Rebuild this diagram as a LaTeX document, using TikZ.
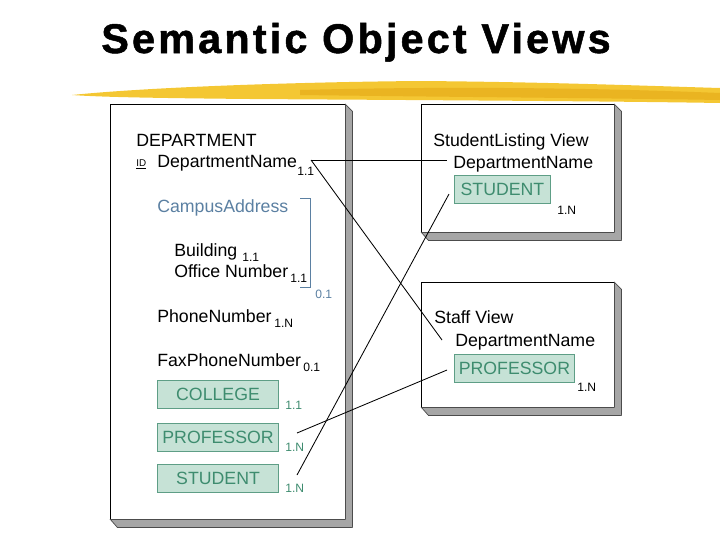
\documentclass[tikz,border=0pt]{standalone}
\usepackage{fontspec}
\setmainfont{Liberation Sans}
\newfontfamily\titlefont[LetterSpace=7.5,FakeBold=1.2]{Liberation Sans}
\usetikzlibrary{positioning,calc}

\definecolor{brushyellow}{HTML}{F4C733}
\definecolor{brushorange}{HTML}{E3A514}
\definecolor{reftext}{HTML}{3E8C6F}
\definecolor{reffill}{HTML}{C6E2D6}
\definecolor{refline}{HTML}{5E9E86}
\definecolor{groupblue}{HTML}{5B80A2}
\definecolor{shadowgray}{HTML}{A6A6A6}

\tikzset{
  objbox/.style={draw, fill=white, line width=0.7pt, inner sep=0pt},
  boxshadow/.style={fill=shadowgray, draw=black!70, line width=0.5pt},
  attr/.style={anchor=base west, inner sep=0pt, font=\fontsize{12.6}{15}\selectfont},
  card/.style={anchor=base west, inner sep=0pt, font=\fontsize{8.6}{9}\selectfont},
  objref/.style={draw=refline, fill=reffill, text=reftext, line width=0.6pt,
    anchor=north west, inner sep=0pt, minimum height=0.71cm,
    font=\fontsize{12.6}{15}\selectfont},
  link/.style={line width=0.6pt},
}

\begin{document}
\begin{tikzpicture}[x=0.025cm, y=-0.025cm]
\useasboundingbox (0,0) rectangle (720,540);

% title and brush stroke
\node[anchor=base, inner sep=0pt, font=\titlefont\bfseries\fontsize{29.5}{32}\selectfont] (title) at (356,53) {Semantic Object Views};
\fill[brushyellow] (72,95) .. controls (150,87) and (300,82) .. (420,81)
  .. controls (550,82) and (650,86) .. (720,88) -- (720,103)
  .. controls (600,101) and (400,100) .. (250,99) .. controls (150,98) and (100,97) .. cycle;
\fill[brushorange, opacity=0.55] (300,90) .. controls (450,86) and (600,88) .. (720,93) -- (720,100)
  .. controls (600,98) and (450,97) .. (300,95) -- cycle;

% object boxes
\node[objbox, minimum width=5.85cm, minimum height=10.35cm] (dept) at (228,312) {};
\node[objbox, minimum width=4.8cm, minimum height=3.175cm] (slview) at (518,168.5) {};
\node[objbox, minimum width=4.8cm, minimum height=3.1cm] (stview) at (518,345) {};
\foreach \b in {dept, slview, stview} {
  \filldraw[boxshadow] (\b.north east) -- ++(7,7) -- ($(\b.south east)+(7,8)$)
    -- ($(\b.south west)+(7,8)$) -- (\b.south west) -- (\b.south east) -- cycle;
  \draw[black!35, line width=0.4pt] (\b.south east) -- ++(7,8);
}

% DEPARTMENT object
\node[attr] (deptName) at (136,146) {DEPARTMENT};
\node[card, font=\fontsize{7}{8}\selectfont] (idMark) at (136,166) {\underline{ID}};
\node[attr] (dname) at (157,167) {DepartmentName};
\node[card] (dnameCard) at (297,175) {1.1};
\node[attr, text=groupblue] (campus) at (157,212) {CampusAddress};
\draw[groupblue, line width=0.6pt] (300,198) -- (310,198) -- (310,287) -- (300,287);
\node[card, text=groupblue] (campusCard) at (315,298) {0.1};
\node[attr] (building) at (174,256) {Building};
\node[card] (buildingCard) at (242,261) {1.1};
\node[attr] (office) at (174,277) {Office Number};
\node[card] (officeCard) at (290,282) {1.1};
\node[attr] (phone) at (157,322) {PhoneNumber};
\node[card] (phoneCard) at (274,327) {1.N};
\node[attr] (fax) at (157,366) {FaxPhoneNumber};
\node[card] (faxCard) at (303,371) {0.1};

\node[objref, minimum width=3.03cm] (college) at (157,380) {COLLEGE};
\node[card, text=reftext] (collegeCard) at (285,409) {1.1};
\node[objref, minimum width=3.03cm] (prof) at (157,423) {PROFESSOR};
\node[card, text=reftext] (profCard) at (285,451) {1.N};
\node[objref, minimum width=3.03cm] (stud) at (157,464) {STUDENT};
\node[card, text=reftext] (studCard) at (285,492) {1.N};

% StudentListing View
\node[attr] (slTitle) at (433,146) {StudentListing View};
\node[attr] (slDept) at (453,168) {DepartmentName};
\node[objref, minimum width=2.4cm] (slStud) at (454,175) {STUDENT};
\node[card] (slCard) at (557,214) {1.N};

% Staff View
\node[attr] (stTitle) at (434,323) {Staff View};
\node[attr] (stDept) at (455,346) {DepartmentName};
\node[objref, minimum width=3.0cm] (stProf) at (454,354) {PROFESSOR};
\node[card] (stCard) at (577,391) {1.N};

% connectors
\coordinate (dnameOut) at (311,160);
\coordinate (slDeptIn) at (447,160);
\coordinate (stDeptIn) at (442,340);
\coordinate (profOut) at (297,433);
\coordinate (stProfIn) at (447,370);
\coordinate (studOut) at (297,475);
\coordinate (slStudIn) at (449,194);
\draw[link] (dnameOut) -- (slDeptIn);
\draw[link] (dnameOut) -- (stDeptIn);
\draw[link] (profOut) -- (stProfIn);
\draw[link] (studOut) -- (slStudIn);

\end{tikzpicture}
\end{document}
